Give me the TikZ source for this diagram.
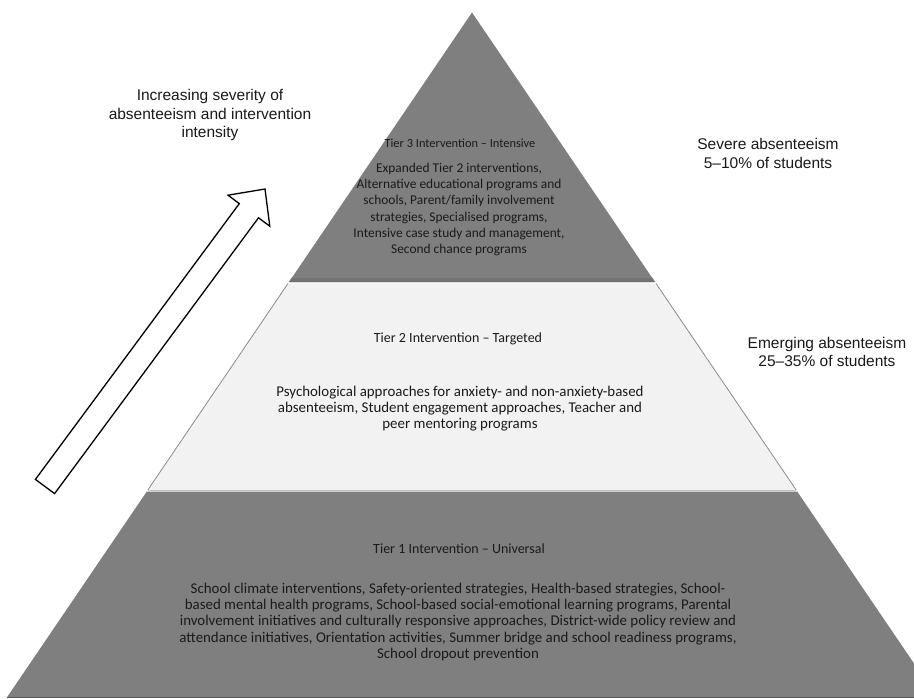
\documentclass[tikz,border=0pt]{standalone}
\usepackage{fontspec}
\setmainfont{Carlito}
\newfontfamily\arialfont{Liberation Sans}
\definecolor{tierdark}{HTML}{7F7F7F}
\definecolor{tiershade}{HTML}{737373}
\definecolor{tierlight}{HTML}{F2F2F2}
\definecolor{tieredge}{HTML}{8A8A8A}
\definecolor{txt}{HTML}{1A1A1A}
\begin{document}
\begin{tikzpicture}[x=1pt,y=-1pt,
  tiertext/.style={font=\fontsize{13.4}{16.2}\selectfont, align=center, inner sep=0pt, text=txt},
  tiertop/.style={font=\fontsize{12.4}{16.2}\selectfont, align=center, inner sep=0pt, text=txt},
  tiertitle/.style={font=\fontsize{14}{16.2}\selectfont, align=center, inner sep=0pt, text=txt},
  tierbody/.style={font=\fontsize{14.9}{16.1}\selectfont, align=center, inner sep=0pt, text=txt},
  sidetext/.style={font=\arialfont\fontsize{15.5}{18.5}\selectfont, align=center, inner sep=0pt, text=txt},
  blockarrow/.style={draw=black, line width=1.3pt, fill=white, line join=miter}
]
\useasboundingbox[fill=white] (0,0) rectangle (914,699);
\begin{scope}
\clip (0,0) rectangle (914,699);
% pyramid corners
\coordinate (apex) at (472,12.5);
\coordinate (t3l) at (289,282);
\coordinate (t3r) at (655,282);
\coordinate (t2tl) at (288,283.5);
\coordinate (t2tr) at (656,283.5);
\coordinate (t2bl) at (147.8,490);
\coordinate (t2br) at (796.2,490);
\coordinate (t1tl) at (146.8,491.5);
\coordinate (t1tr) at (797.2,491.5);
\coordinate (t1bl) at (7.2,697);
\coordinate (t1br) at (936.8,697);
% tier 3
\fill[tierdark] (apex) -- (t3l) -- (t3r) -- cycle;
\fill[tiershade] (291.7,278) -- (652.3,278) -- (t3r) -- (t3l) -- cycle;
% tier 2
\fill[tierlight] (t2tl) -- (t2tr) -- (t2br) -- (t2bl) -- cycle;
\draw[tieredge, line width=0.8pt] (t2tl) -- (t2bl);
\draw[tieredge, line width=0.8pt] (t2tr) -- (t2br);
\draw[black!25, line width=1pt] (t2bl) -- (t2br);
% tier 1
\fill[tierdark] (t1tl) -- (t1tr) -- (t1br) -- (t1bl) -- cycle;
\draw[black!65, line width=1pt] (t1bl) -- (t1br);
\end{scope}
% arrow
\draw[blockarrow] (54.6,493.6) -- (258.5,217.8) -- (269.8,226.2) -- (265,189)
  -- (228.0,195.2) -- (239.3,203.6) -- (35.4,479.4) -- cycle;
% tier texts
\node[tiertop] (t3title) at (460,143) {Tier 3 Intervention – Intensive};
\node[tiertext] (t3body) at (459,209.5) {Expanded Tier 2 interventions,\\Alternative educational programs and\\schools, Parent/family involvement\\strategies, Specialised programs,\\Intensive case study and management,\\Second chance programs};
\node[tiertitle] (t2title) at (458,339) {Tier 2 Intervention – Targeted};
\node[tierbody] (t2body) at (460,408.5) {Psychological approaches for anxiety- and non-anxiety-based\\absenteeism, Student engagement approaches, Teacher and\\peer mentoring programs};
\node[tiertitle] (t1title) at (459,549) {Tier 1 Intervention – Universal};
\node[tierbody] (t1body) at (458,622) {School climate interventions, Safety-oriented strategies, Health-based strategies, School-\\based mental health programs, School-based social-emotional learning programs, Parental\\involvement initiatives and culturally responsive approaches, District-wide policy review and\\attendance initiatives, Orientation activities, Summer bridge and school readiness programs,\\School dropout prevention};
% side labels
\node[sidetext] (sev) at (210,115) {Increasing severity of\\absenteeism and intervention\\intensity};
\node[sidetext] (severe) at (768,153.5) {Severe absenteeism\\5–10\% of students};
\node[sidetext] (emerg) at (827,352) {Emerging absenteeism\\25–35\% of students};
\end{tikzpicture}
\end{document}
